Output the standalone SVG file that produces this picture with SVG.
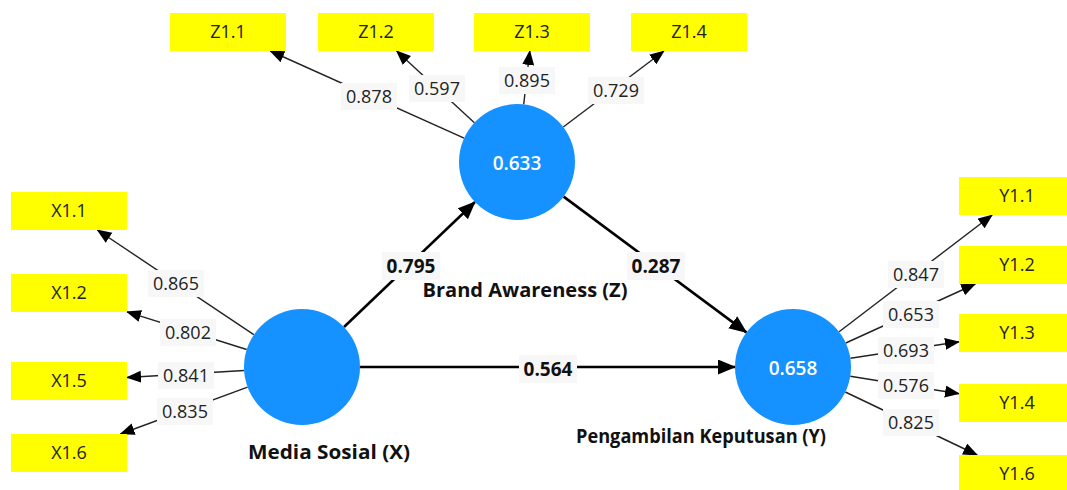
<svg xmlns="http://www.w3.org/2000/svg" width="1067" height="490" viewBox="0 0 1067 490">
<style>
.box{fill:#ffff00}
.bt{font-family:"Open Sans","Liberation Sans",sans-serif;font-size:18px;fill:#222;text-anchor:middle}
.lv{fill:#1592ff}
.lt{font-family:"Open Sans","Liberation Sans",sans-serif;font-size:19px;font-weight:600;fill:#fff;text-anchor:middle}
.name{font-family:"Open Sans","Liberation Sans",sans-serif;font-size:19px;font-weight:700;fill:#111;text-anchor:middle}
.thin{stroke:#222;stroke-width:1.4;fill:none;marker-end:url(#ah)}
.thick{stroke:#000;stroke-width:2.6;fill:none;marker-end:url(#ahb)}
.lb{fill:#f7f7f7}
.num{font-family:"Open Sans","Liberation Sans",sans-serif;font-size:18px;fill:#222;text-anchor:middle}
.numb{font-family:"Open Sans","Liberation Sans",sans-serif;font-size:19px;font-weight:700;fill:#111;text-anchor:middle}
</style>
<defs>
<marker id="ah" markerUnits="userSpaceOnUse" markerWidth="16" markerHeight="14" refX="14" refY="6" orient="auto">
<path d="M0,0 L15,6 L0,12 z" fill="#000"/>
</marker>
<marker id="ahb" markerUnits="userSpaceOnUse" markerWidth="19" markerHeight="16" refX="17" refY="7.5" orient="auto">
<path d="M0,0 L18,7.5 L0,15 z" fill="#000"/>
</marker>
</defs>
<rect width="1067" height="490" fill="#fff"/>

<g id="connectors">
<line class="thin" x1="464.1" y1="138.2" x2="270.2" y2="51"/>
<line class="thin" x1="474.4" y1="122.7" x2="396.6" y2="51"/>
<line class="thin" x1="523.7" y1="104.4" x2="529.8" y2="51"/>
<line class="thin" x1="563.3" y1="127" x2="663.9" y2="51"/>
<line class="thin" x1="253.8" y1="334.7" x2="97.4" y2="230"/>
<line class="thin" x1="246.7" y1="349.5" x2="127" y2="311.8"/>
<line class="thin" x1="244.1" y1="370.5" x2="127" y2="377.5"/>
<line class="thin" x1="247.6" y1="387.1" x2="120.5" y2="434"/>
<line class="thin" x1="839.1" y1="331.8" x2="992.1" y2="215"/>
<line class="thin" x1="845.8" y1="343" x2="975.3" y2="284"/>
<line class="thin" x1="850.4" y1="358.3" x2="959" y2="341.8"/>
<line class="thin" x1="850.3" y1="376.2" x2="959" y2="393.7"/>
<line class="thin" x1="845.3" y1="392" x2="977.2" y2="455"/>
<line class="thick" x1="344" y1="327" x2="475" y2="202"/>
<line class="thick" x1="563.6" y1="196.6" x2="746.4" y2="332.4"/>
<line class="thick" x1="360" y1="367" x2="735" y2="367"/>

<rect class="lb" x="341" y="83" width="56" height="27"/><text class="num" x="369" y="102.5">0.878</text>
<rect class="lb" x="409" y="75" width="56" height="27"/><text class="num" x="437" y="94.5">0.597</text>
<rect class="lb" x="499" y="67" width="56" height="27"/><text class="num" x="527" y="86.5">0.895</text>
<rect class="lb" x="588" y="77" width="56" height="27"/><text class="num" x="616" y="96.5">0.729</text>
<rect class="lb" x="148" y="270" width="56" height="27"/><text class="num" x="176" y="289.5">0.865</text>
<rect class="lb" x="160" y="319" width="56" height="27"/><text class="num" x="188" y="338.5">0.802</text>
<rect class="lb" x="158" y="362" width="56" height="27"/><text class="num" x="186" y="381.5">0.841</text>
<rect class="lb" x="157" y="398" width="56" height="27"/><text class="num" x="185" y="417.5">0.835</text>
<rect class="lb" x="888" y="261" width="56" height="27"/><text class="num" x="916" y="280.5">0.847</text>
<rect class="lb" x="883" y="301" width="56" height="27"/><text class="num" x="911" y="320.5">0.653</text>
<rect class="lb" x="878" y="337" width="56" height="27"/><text class="num" x="906" y="356.5">0.693</text>
<rect class="lb" x="878" y="372" width="56" height="27"/><text class="num" x="906" y="391.5">0.576</text>
<rect class="lb" x="883" y="409" width="56" height="27"/><text class="num" x="911" y="428.5">0.825</text>
<rect class="lb" x="382" y="252" width="58" height="28"/><text class="numb" x="411" y="273">0.795</text>
<rect class="lb" x="627" y="252" width="58" height="28"/><text class="numb" x="656" y="273">0.287</text>
<rect class="lb" x="519" y="355" width="58" height="28"/><text class="numb" x="548" y="376">0.564</text>
</g>

<g id="Z1.1"><rect class="box" x="170" y="13" width="116" height="38"/><text class="bt" x="228" y="38">Z1.1</text></g>
<g id="Z1.2"><rect class="box" x="318" y="13" width="116" height="38"/><text class="bt" x="376" y="38">Z1.2</text></g>
<g id="Z1.3"><rect class="box" x="474" y="13" width="116" height="38"/><text class="bt" x="532" y="38">Z1.3</text></g>
<g id="Z1.4"><rect class="box" x="631" y="13" width="116" height="38"/><text class="bt" x="689" y="38">Z1.4</text></g>

<g id="X1.1"><rect class="box" x="11" y="192" width="116" height="38"/><text class="bt" x="69" y="217">X1.1</text></g>
<g id="X1.2"><rect class="box" x="11" y="274" width="116" height="38"/><text class="bt" x="69" y="299">X1.2</text></g>
<g id="X1.5"><rect class="box" x="11" y="362" width="116" height="38"/><text class="bt" x="69" y="387">X1.5</text></g>
<g id="X1.6"><rect class="box" x="11" y="434" width="116" height="38"/><text class="bt" x="69" y="459">X1.6</text></g>

<g id="Y1.1"><rect class="box" x="959" y="177" width="116" height="38"/><text class="bt" x="1017" y="202">Y1.1</text></g>
<g id="Y1.2"><rect class="box" x="959" y="246" width="116" height="38"/><text class="bt" x="1017" y="271">Y1.2</text></g>
<g id="Y1.3"><rect class="box" x="959" y="314" width="116" height="38"/><text class="bt" x="1017" y="339">Y1.3</text></g>
<g id="Y1.4"><rect class="box" x="959" y="384" width="116" height="38"/><text class="bt" x="1017" y="409">Y1.4</text></g>
<g id="Y1.6"><rect class="box" x="959" y="455" width="116" height="38"/><text class="bt" x="1017" y="480">Y1.6</text></g>

<g id="BrandAwareness"><circle class="lv" cx="517" cy="162" r="58"/><text class="lt" x="517" y="169.5">0.633</text><text class="name" x="525" y="297" textLength="205" lengthAdjust="spacingAndGlyphs">Brand Awareness (Z)</text></g>
<g id="MediaSosial"><circle class="lv" cx="302" cy="367" r="58"/><text class="name" x="329" y="459" textLength="162" lengthAdjust="spacingAndGlyphs">Media Sosial (X)</text></g>
<g id="PengambilanKeputusan"><circle class="lv" cx="793" cy="367" r="58"/><text class="lt" x="793" y="374.5">0.658</text><text class="name" x="701" y="443" textLength="250" lengthAdjust="spacingAndGlyphs">Pengambilan Keputusan (Y)</text></g>
</svg>
